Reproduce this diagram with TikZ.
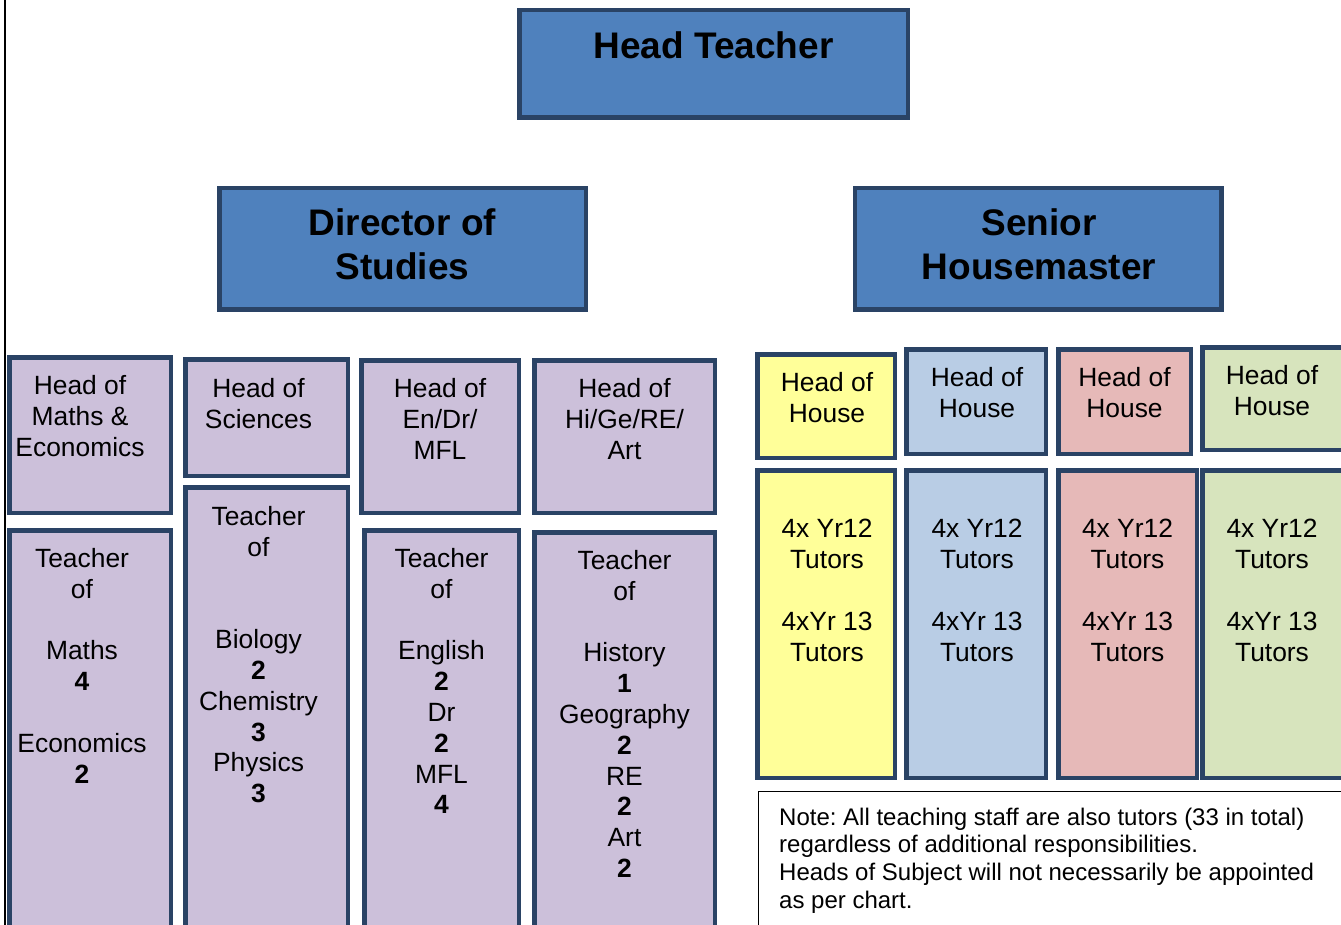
\documentclass[tikz,border=0pt]{standalone}
\usepackage{fontspec}
\setmainfont{Liberation Sans}
\usetikzlibrary{positioning}
\definecolor{chartblue}{HTML}{4F81BD}
\definecolor{chartnavy}{HTML}{2A4365}
\definecolor{lilac}{HTML}{CCC0DA}
\definecolor{houseyellow}{HTML}{FFFF99}
\definecolor{houseblue}{HTML}{B9CDE5}
\definecolor{housered}{HTML}{E6B9B8}
\definecolor{housegreen}{HTML}{D7E4BD}
\frenchspacing

\tikzset{
  orgbox/.style={draw=chartnavy, line width=4.5pt, inner sep=0pt, outer sep=0pt},
  boss/.style={orgbox, fill=chartblue},
  subject/.style={orgbox, fill=lilac},
  bosstext/.style={inner sep=0pt, align=center, font=\fontsize{37}{44}\selectfont\bfseries},
  smalltext/.style={inner sep=0pt, align=center, font=\fontsize{26.4}{30.8}\selectfont},
}

\begin{document}
\begin{tikzpicture}[x=1pt, y=-1pt]
  \useasboundingbox (0,0) rectangle (1341,925);
  \clip (0,0) rectangle (1341,925);
  \draw[line width=2.5pt] (5,-5) -- (5,935);

  % top of the tree
  \node[boss, minimum width=388.5pt, minimum height=107.5pt] (head) at (713.5,64) {};
  \node[bosstext, below=21.5pt of head.north] (headtxt) {Head Teacher};

  \node[boss, minimum width=366.5pt, minimum height=121.5pt] (dos) at (402.5,249) {};
  \node[bosstext, below=20.5pt of dos.north] (dostxt) {Director of\\Studies};

  \node[boss, minimum width=366.5pt, minimum height=121.5pt] (shm) at (1038,249) {};
  \node[bosstext, below=20.5pt of shm.north, xshift=1pt] (shmtxt) {Senior\\Housemaster};

  % heads of subject
  \node[subject, minimum width=161.5pt, minimum height=155.5pt] (hmaths) at (90,435) {};
  \node[smalltext, below=18pt of hmaths.north, xshift=-10pt] (hmathstxt) {Head of\\Maths \&\\Economics};

  \node[subject, minimum width=162.5pt, minimum height=116.5pt] (hsci) at (266.5,417.5) {};
  \node[smalltext, below=19pt of hsci.north, xshift=-8pt] (hscitxt) {Head of\\Sciences};

  \node[subject, minimum width=157.5pt, minimum height=152.5pt] (heng) at (440,436.5) {};
  \node[smalltext, below=18pt of heng.north] (hengtxt) {Head of\\En/Dr/\\MFL};

  \node[subject, minimum width=180.5pt, minimum height=152.5pt] (hhum) at (624.5,436.5) {};
  \node[smalltext, below=18pt of hhum.north] (hhumtxt) {Head of\\Hi/Ge/RE/\\Art};

  % subject teachers
  \node[subject, minimum width=161.5pt, minimum height=407.5pt] (tmaths) at (90,734) {};
  \node[smalltext, below=18pt of tmaths.north, xshift=-8pt] (tmathstxt)
    {Teacher\\of\\[30.8pt]Maths\\\textbf{4}\\[30.8pt]Economics\\\textbf{2}};

  \node[subject, minimum width=162.5pt, minimum height=450.5pt] (tsci) at (266.5,712.5) {};
  \node[smalltext, below=19pt of tsci.north, xshift=-8pt] (tscitxt)
    {Teacher\\of\\[61.6pt]Biology\\\textbf{2}\\Chemistry\\\textbf{3}\\Physics\\\textbf{3}};

  \node[subject, minimum width=154.5pt, minimum height=407.5pt] (teng) at (441.5,734) {};
  \node[smalltext, below=18pt of teng.north] (tengtxt)
    {Teacher\\of\\[30.8pt]English\\\textbf{2}\\Dr\\\textbf{2}\\MFL\\\textbf{4}};

  \node[subject, minimum width=180.5pt, minimum height=405.5pt] (thum) at (624.5,735) {};
  \node[smalltext, below=18pt of thum.north] (thumtxt)
    {Teacher\\of\\[30.8pt]History\\\textbf{1}\\Geography\\\textbf{2}\\RE\\\textbf{2}\\Art\\\textbf{2}};

  % houses
  \node[orgbox, fill=houseyellow, minimum width=137.5pt, minimum height=103.5pt] (hyellow) at (826,406) {};
  \node[smalltext, below=18pt of hyellow.north, xshift=1pt] (hyellowtxt) {Head of\\House};

  \node[orgbox, fill=houseblue, minimum width=139.5pt, minimum height=104.5pt] (hblue) at (976,401.5) {};
  \node[smalltext, below=18pt of hblue.north, xshift=1pt] (hbluetxt) {Head of\\House};

  \node[orgbox, fill=housered, minimum width=132.5pt, minimum height=104.5pt] (hred) at (1124.5,401.5) {};
  \node[smalltext, below=18pt of hred.north] (hredtxt) {Head of\\House};

  \node[orgbox, fill=housegreen, minimum width=143.5pt, minimum height=102.5pt] (hgreen) at (1274,398.5) {};
  \node[smalltext, below=18pt of hgreen.north, xshift=-2pt] (hgreentxt) {Head of\\House};

  % tutors
  \node[orgbox, fill=houseyellow, minimum width=137.5pt, minimum height=307.5pt] (tyellow) at (826,624) {};
  \node[smalltext, below=49pt of tyellow.north, xshift=1pt] (tyellowtxt)
    {4x Yr12\\Tutors\\[30.8pt]4xYr 13\\Tutors};

  \node[orgbox, fill=houseblue, minimum width=139.5pt, minimum height=307.5pt] (tblue) at (976,624) {};
  \node[smalltext, below=49pt of tblue.north, xshift=1pt] (tbluetxt)
    {4x Yr12\\Tutors\\[30.8pt]4xYr 13\\Tutors};

  \node[orgbox, fill=housered, minimum width=138.5pt, minimum height=307.5pt] (tred) at (1127.5,624) {};
  \node[smalltext, below=49pt of tred.north] (tredtxt)
    {4x Yr12\\Tutors\\[30.8pt]4xYr 13\\Tutors};

  \node[orgbox, fill=housegreen, minimum width=143.5pt, minimum height=307.5pt] (tgreen) at (1274,624) {};
  \node[smalltext, below=49pt of tgreen.north, xshift=-2pt] (tgreentxt)
    {4x Yr12\\Tutors\\[30.8pt]4xYr 13\\Tutors};

  % footnote
  \node[draw, line width=1.5pt, minimum width=590pt, minimum height=150pt, anchor=north west] (note) at (757.5,790.5) {};
  \node[inner sep=0pt, align=left, anchor=north west, font=\fontsize{24}{27.7}\selectfont] (notetxt) at (779,807.5)
    {Note: All teaching staff are also tutors (33 in total)\\regardless of additional responsibilities.\\Heads of Subject will not necessarily be appointed\\as per chart.};
\end{tikzpicture}
\end{document}
